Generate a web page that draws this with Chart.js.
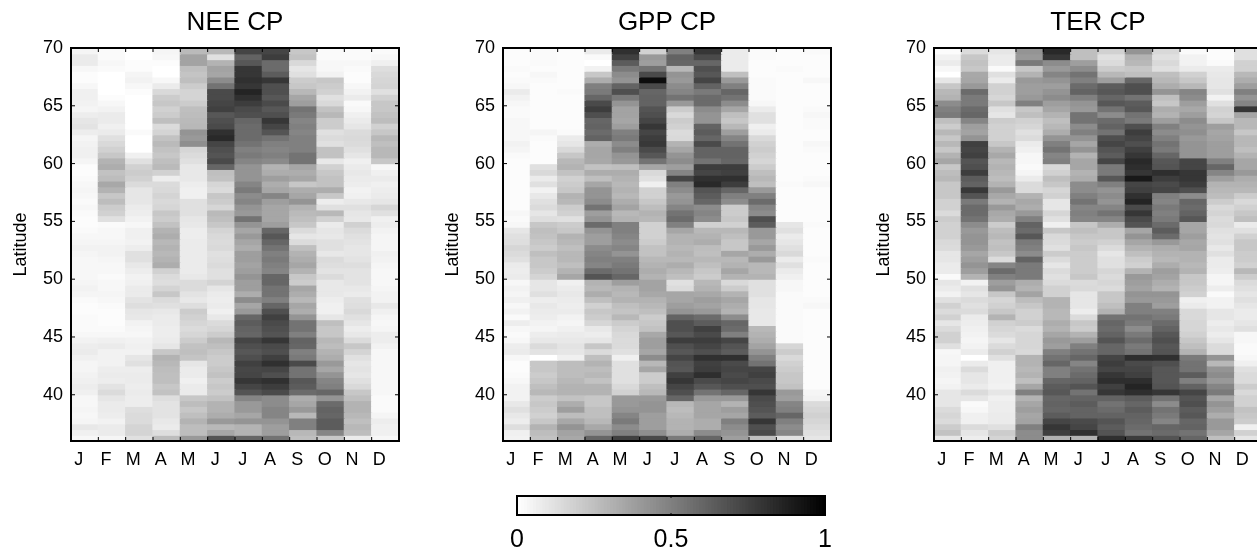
<!DOCTYPE html>
<html>
<head>
<meta charset="utf-8">
<script src="https://cdn.jsdelivr.net/npm/chart.js@4"></script>
<style>
  html, body { margin: 0; padding: 0; background: #fff; overflow: hidden; width: 1257px; height: 550px; }
  canvas { position: absolute; }
</style>
</head>
<body>
<canvas id="neeChart" width="420" height="480" style="left:0;top:0"></canvas>
<canvas id="gppChart" width="420" height="480" style="left:432px;top:0"></canvas>
<canvas id="terChart" width="420" height="480" style="left:863px;top:0"></canvas>
<canvas id="barChart" width="370" height="64" style="left:490px;top:486px"></canvas>
<script>
const months = ['J', 'F', 'M', 'A', 'M', 'J', 'J', 'A', 'S', 'O', 'N', 'D'];
const latTicks = [40, 45, 50, 55, 60, 65, 70];
const colorTicks = [0, 0.5, 1];

// lower edge of each half degree row, top of the map first
const rowLats = [69.5, 69, 68.5, 68, 67.5, 67, 66.5, 66, 65.5, 65,
  64.5, 64, 63.5, 63, 62.5, 62, 61.5, 61, 60.5, 60,
  59.5, 59, 58.5, 58, 57.5, 57, 56.5, 56, 55.5, 55,
  54.5, 54, 53.5, 53, 52.5, 52, 51.5, 51, 50.5, 50,
  49.5, 49, 48.5, 48, 47.5, 47, 46.5, 46, 45.5, 45,
  44.5, 44, 43.5, 43, 42.5, 42, 41.5, 41, 40.5, 40,
  39.5, 39, 38.5, 38, 37.5, 37, 36.5, 36];

// one list per month, same order as rowLats, percent of the colour bar
const neeValues = [
  [4,8,8,3,1,1,3,6,6,5, 4,7,10,11,7,4,5,6,6,4, 1,1,2,3,4,3,2,3,2,1, 1,2,3,4,5,4,3,3,3,3, 4,5,4,2,1,1,2,2,2,3, 5,7,8,6,4,4,5,6,7,6, 3,3,4,3,4,9,6,3],
  [2,2,3,2,0,0,0,0,1,3, 5,8,8,6,8,12,15,18,22,30, 32,24,26,34,30,22,26,20,18,12, 2,3,3,4,5,5,4,3,3,2, 3,3,4,3,2,1,1,1,2,3, 6,8,5,5,5,7,8,7,11,14, 10,8,8,7,5,8,8,4],
  [0,0,1,1,4,5,3,1,0,0, 0,0,0,0,2,0,0,0,6,12, 18,20,18,14,10,10,10,8,7,5, 3,6,6,5,7,12,12,9,7,5, 6,8,8,11,13,10,9,5,4,3, 5,6,5,10,12,7,8,8,7,8, 7,7,13,14,14,17,17,12],
  [4,3,1,0,0,3,8,15,20,22, 18,20,25,14,17,24,27,24,22,25, 27,18,7,14,15,17,15,16,22,20, 24,30,32,28,30,28,30,32,18,14, 13,17,22,14,12,9,8,8,7,7, 8,10,22,30,28,26,25,25,22,24, 13,11,11,11,9,8,13,26],
  [27,36,36,25,23,25,20,17,17,20, 25,26,27,28,42,40,44,16,14,12, 9,9,9,7,6,6,12,12,12,10, 9,7,7,8,8,8,8,8,8,9, 14,14,11,9,13,20,18,16,14,16, 20,24,25,23,10,8,8,6,8,8, 22,26,22,25,30,26,26,40],
  [28,12,30,36,35,45,55,71,71,73, 75,66,69,71,81,84,73,69,67,71, 60,25,24,16,14,22,20,16,27,25, 22,17,15,14,15,12,13,14,12,12, 17,10,8,7,8,6,9,14,16,20, 28,25,22,20,20,22,24,20,22,20, 24,30,30,32,40,28,35,67],
  [73,61,66,79,79,81,79,86,81,76, 71,69,60,58,58,58,55,50,52,48, 42,42,42,48,52,45,48,42,40,55, 42,35,40,35,32,38,38,36,38,42, 38,38,32,45,35,40,60,64,61,60, 73,69,66,69,75,72,73,79,73,67, 48,40,40,35,42,30,30,60],
  [73,76,58,58,64,79,69,69,66,71, 66,69,79,73,67,55,50,48,50,46, 30,32,38,32,35,48,38,35,35,35, 38,60,66,60,55,50,52,50,48,60, 60,55,55,50,60,69,75,71,69,67, 79,71,69,75,81,73,69,81,76,71, 45,45,48,48,42,38,38,55],
  [22,24,15,10,12,20,22,28,35,38, 55,52,48,50,48,50,50,50,55,55, 35,32,35,22,32,35,42,30,27,25, 22,14,10,14,25,30,32,35,30,22, 20,35,32,28,35,32,42,55,55,50, 61,60,50,52,71,55,55,66,64,58, 32,35,40,28,50,50,28,25],
  [2,2,3,3,5,22,20,18,12,15, 24,28,20,20,12,14,12,24,24,9, 18,22,24,24,32,22,7,12,28,18, 8,10,9,12,12,9,14,13,11,14, 9,9,9,7,6,6,10,25,22,22, 28,26,30,32,40,35,42,48,50,60, 42,58,61,60,64,64,48,22],
  [2,2,3,2,1,1,3,5,8,2, 3,6,8,10,14,15,14,12,10,6, 8,9,8,7,5,6,9,12,10,9, 18,14,12,11,10,10,11,13,11,11, 11,9,8,12,13,15,12,10,7,9, 14,22,17,12,10,11,10,12,15,22, 25,30,30,28,25,28,26,8],
  [2,3,6,13,15,16,17,12,18,22, 22,24,26,18,22,28,25,28,28,22, 3,6,8,6,7,8,10,16,12,6, 7,5,4,4,4,6,5,4,3,3, 3,4,5,5,9,6,4,3,4,7, 7,5,3,3,3,3,3,3,3,3, 2,2,2,4,7,6,6,3]
];

const gppValues = [
  [1,1,1,2,1,2,3,8,5,3, 2,2,3,3,3,3,5,4,2,1, 1,1,1,1,1,1,1,1,3,2, 3,10,12,13,16,14,12,8,7,8, 3,5,4,6,3,5,2,7,3,2, 3,7,8,3,1,1,2,3,5,5, 5,9,12,9,7,13,6,5],
  [2,2,2,1,3,2,1,1,1,1, 1,1,1,1,4,2,1,1,1,1, 12,15,8,12,5,9,12,14,10,13, 22,25,24,22,20,25,22,22,20,17, 10,10,12,7,9,8,7,5,4,7, 9,14,11,0,22,22,20,22,25,28, 20,22,20,18,22,30,26,24],
  [1,1,1,1,1,1,1,2,1,1, 1,1,1,1,2,8,10,15,22,28, 30,24,18,20,22,30,28,20,18,12, 20,22,30,28,25,28,28,25,30,35, 6,8,9,8,7,8,5,4,6,8, 9,11,10,6,26,26,26,28,30,30, 24,32,38,26,34,42,36,34],
  [8,2,0,5,22,32,50,52,60,71, 76,69,60,61,58,61,32,35,35,34, 24,32,25,35,42,42,45,55,38,42, 58,42,38,38,45,48,50,48,58,67, 30,28,32,25,18,22,20,16,9,7, 10,22,14,25,30,26,28,24,30,30, 22,22,25,25,28,34,42,60],
  [81,75,64,52,45,42,61,69,52,42, 36,36,35,38,50,52,45,50,42,40, 25,32,30,28,30,28,32,36,28,30, 50,50,48,45,48,42,50,52,55,60, 38,30,28,30,25,23,28,20,17,15, 14,14,12,6,12,12,12,12,15,18, 40,40,42,48,52,45,50,75],
  [18,40,38,55,71,95,71,60,61,61, 67,69,73,79,73,76,78,71,66,55, 35,15,12,6,18,18,22,26,30,28, 18,18,18,20,24,24,28,30,32,30, 36,36,34,30,28,25,20,22,24,34, 38,38,35,45,28,35,20,20,25,28, 40,42,42,38,38,38,44,71],
  [50,61,60,28,42,40,45,48,55,40, 20,15,20,18,14,15,30,35,42,45, 38,48,73,50,45,40,42,48,55,58, 50,35,30,30,28,30,28,32,28,25, 12,14,35,35,38,42,61,69,69,66, 76,69,66,73,67,66,75,79,73,69, 60,28,26,28,30,30,32,52],
  [79,71,60,69,66,73,61,52,58,58, 45,42,42,61,64,60,71,61,61,55, 76,73,81,84,67,64,60,45,48,45, 18,28,30,32,26,25,28,25,22,20, 28,30,34,38,36,40,58,64,75,71, 76,73,69,81,75,76,82,71,66,55, 40,35,35,35,32,32,45,60],
  [8,8,8,8,25,40,50,60,55,45, 35,25,22,28,38,48,55,61,61,60, 76,75,81,76,60,50,45,20,20,22, 18,28,25,22,22,35,28,30,35,30, 15,20,30,35,32,30,45,60,58,50, 73,67,64,81,71,73,71,73,69,60, 40,30,38,35,50,45,42,38],
  [2,2,1,1,1,2,2,2,2,3, 8,12,12,6,8,15,18,20,18,16, 20,25,28,25,40,50,58,48,45,69, 64,40,40,35,40,32,40,28,28,30, 12,12,12,10,10,9,9,9,28,30, 32,36,42,50,55,73,75,71,69,79, 71,69,67,64,79,69,71,25],
  [1,1,1,2,1,1,1,1,1,1, 1,1,1,1,1,1,1,1,1,1, 1,1,1,2,1,1,1,1,1,1, 10,12,8,10,12,15,8,12,8,6, 3,3,2,2,2,2,2,2,2,2, 2,16,20,15,18,20,22,22,24,40, 38,48,50,60,50,45,48,12],
  [2,1,1,1,1,3,1,1,1,1, 2,3,2,2,1,1,3,2,1,1, 1,1,2,3,1,1,1,1,1,1, 2,1,1,1,1,1,2,1,1,1, 1,1,1,2,3,1,1,1,1,1, 1,1,1,1,1,1,1,1,1,4, 5,14,16,18,16,14,12,10]
];

const terValues = [
  [1,5,8,3,0,10,22,28,30,45, 50,52,25,20,28,22,28,22,30,35, 22,26,28,22,22,22,18,18,14,20, 18,18,18,15,14,10,10,8,8,2, 10,8,5,12,18,14,18,10,14,18, 18,12,3,4,4,6,5,4,5,10, 10,10,14,16,14,20,24,10],
  [14,22,24,22,34,35,40,58,52,52, 58,60,48,38,36,42,75,73,75,67, 69,76,64,61,78,67,52,58,58,55, 45,40,42,42,40,35,38,42,38,30, 5,12,10,14,12,14,8,7,6,5, 4,5,8,0,8,14,10,10,8,14, 10,2,3,6,6,14,10,7],
  [10,8,8,2,12,8,18,18,16,22, 12,10,20,18,18,18,22,30,34,28, 30,28,26,30,40,34,30,40,34,32, 20,26,28,24,25,22,14,48,58,50, 38,42,22,16,18,22,30,18,16,14, 10,14,18,12,6,6,6,6,5,10, 6,7,7,8,8,12,20,17],
  [42,40,52,22,30,40,38,38,40,50, 22,25,18,16,12,14,8,6,3,3, 2,4,8,14,14,30,34,32,40,50, 61,58,66,52,50,45,61,52,52,52, 32,30,36,26,22,18,18,20,14,16, 16,16,15,30,30,28,30,25,35,50, 30,35,38,35,36,50,45,45],
  [84,79,45,40,48,42,38,42,45,38, 35,30,25,28,32,42,50,55,48,50, 15,18,25,22,16,18,10,10,16,12, 6,22,15,14,12,20,14,10,14,12, 14,18,18,30,30,28,28,32,30,35, 40,38,50,55,60,50,50,60,64,66, 60,61,60,64,73,79,75,30],
  [25,25,38,45,55,50,58,61,50,42, 40,55,55,45,50,42,35,42,30,35, 35,30,32,45,45,50,55,48,50,48, 22,25,22,20,22,20,20,20,20,22, 14,15,10,10,10,7,14,22,20,30, 38,50,55,60,48,55,58,61,67,55, 61,64,61,61,71,73,81,30],
  [18,12,14,20,28,38,64,66,60,66, 55,45,58,61,55,69,73,67,64,73, 52,52,66,50,42,45,42,48,55,48, 32,22,22,18,14,10,12,12,16,14, 16,14,22,22,25,30,55,60,58,61, 67,60,60,73,76,73,79,82,75,79, 61,55,58,61,67,64,67,81],
  [42,30,28,22,25,60,69,69,55,64, 66,55,52,69,76,73,69,75,79,84, 82,79,90,73,75,81,86,71,79,71, 67,35,42,35,30,25,20,18,30,40, 38,36,42,40,50,50,55,52,45,52, 58,52,55,82,71,73,75,82,86,82, 64,60,64,61,60,58,55,76],
  [15,12,15,12,25,28,32,42,25,22, 32,30,38,50,45,50,55,52,60,66, 67,82,76,71,73,50,48,52,50,52, 58,64,58,40,32,30,28,32,38,36, 32,30,42,40,38,50,52,58,61,66, 69,66,67,81,69,66,66,66,67,79, 55,45,55,52,48,60,58,67],
  [2,5,5,8,18,22,28,48,45,38, 34,38,45,42,44,40,42,42,42,73, 73,79,79,76,69,45,60,58,61,66, 35,35,38,34,35,30,30,28,30,22, 22,20,18,6,8,15,15,16,16,18, 22,25,30,52,55,55,64,50,61,73, 67,69,64,66,60,61,55,60],
  [1,1,2,8,9,10,10,12,5,12, 18,17,22,38,35,36,38,38,38,50, 60,48,38,30,28,26,20,15,17,14, 15,12,11,12,9,12,8,8,7,4, 4,7,2,5,5,10,10,7,9,7, 10,14,14,42,28,42,45,40,48,52, 35,42,38,32,40,40,35,25],
  [12,12,18,18,28,32,38,50,42,48, 79,35,28,28,22,28,28,25,30,35, 35,40,32,30,28,20,15,18,22,25, 8,12,18,22,22,20,20,18,28,20, 14,12,10,12,10,8,8,10,12,3, 3,2,2,3,6,12,14,14,20,15, 18,18,24,22,20,6,18,10]
];

// steps of the colour bar, lower edge of each step in percent
const barSteps = [0,1,2,3,4,5,6,7,8,9,10,11,12,13,14,15,16,17,18,19,20,21,22,23,24,
  25,26,27,28,29,30,31,32,33,34,35,36,37,38,39,40,41,42,43,44,45,46,47,48,49,
  50,51,52,53,54,55,56,57,58,59,60,61,62,63,64,65,66,67,68,69,70,71,72,73,74,
  75,76,77,78,79,80,81,82,83,84,85,86,87,88,89,90,91,92,93,94,95,96,97,98,99];

const fontName = '"Liberation Sans", Arial, sans-serif';
const rowHeight = 0.5;

function grayOf(percent){
  const g = Math.round(255 * (1 - percent / 100));
  return `rgb(${g},${g},${g})`;
}

// MATLAB style box: black frame with the ticks pointing inward
const boxPlugin = {
  id: 'box',
  afterDatasetsDraw(chart){
    const { ctx, chartArea: a, scales } = chart;
    const len = 4;
    ctx.save();
    ctx.strokeStyle = '#000';
    ctx.lineWidth = 2;
    ctx.strokeRect(a.left, a.top, a.right - a.left, a.bottom - a.top);
    ctx.lineWidth = 1;
    ctx.beginPath();
    if(scales.x.type === 'category'){
      const step = (a.right - a.left) / months.length;
      months.forEach((m, i) => {
        const px = scales.x.getPixelForValue(i) + step / 2;
        ctx.moveTo(px, a.top); ctx.lineTo(px, a.top + len);
        ctx.moveTo(px, a.bottom); ctx.lineTo(px, a.bottom - len);
      });
      latTicks.forEach(v => {
        const py = scales.y.getPixelForValue(v);
        ctx.moveTo(a.left, py); ctx.lineTo(a.left + len, py);
        ctx.moveTo(a.right, py); ctx.lineTo(a.right - len, py);
      });
    } else {
      const px = scales.x.getPixelForValue(0.5);
      ctx.moveTo(px, a.top); ctx.lineTo(px, a.top + 2);
      ctx.moveTo(px, a.bottom); ctx.lineTo(px, a.bottom - 2);
    }
    ctx.stroke();
    ctx.restore();
  }
};

function drawPanel(id, titleText, values){
  const datasets = rowLats.map((lat, r) => ({
    data: months.map(() => [lat, lat + rowHeight]),
    backgroundColor: months.map((m, c) => grayOf(values[c][r])),
    borderWidth: 0,
    inflateAmount: 0.6,
    barPercentage: 1,
    categoryPercentage: 1,
    grouped: false
  }));
  new Chart(document.getElementById(id), {
    type: 'bar',
    data: { labels: months, datasets: datasets },
    plugins: [boxPlugin],
    options: {
      responsive: false,
      animation: false,
      layout: { padding: { right: 21 } },
      plugins: {
        legend: { display: false },
        tooltip: { enabled: false },
        title: {
          display: true,
          text: titleText,
          color: '#000',
          fullSize: false,
          font: { family: fontName, size: 26, weight: 'normal' },
          padding: { top: 7, bottom: 9.8 }
        }
      },
      scales: {
        x: {
          grid: { display: false },
          border: { display: false },
          afterFit(scale){ scale.height = 39; },
          ticks: {
            color: '#000',
            font: { family: fontName, size: 18 },
            padding: 0,
            labelOffset: -6,
            maxRotation: 0,
            autoSkip: false
          }
        },
        y: {
          min: 36,
          max: 70,
          grid: { display: false },
          border: { display: false },
          afterFit(scale){ scale.width = 71; },
          afterBuildTicks(scale){ scale.ticks = latTicks.map(v => ({ value: v })); },
          title: {
            display: true,
            text: 'Latitude',
            color: '#000',
            font: { family: fontName, size: 18 },
            padding: { top: 10, bottom: 0 }
          },
          ticks: {
            color: '#000',
            font: { family: fontName, size: 18 },
            padding: 0
          }
        }
      }
    }
  });
}

function drawColorBar(){
  const datasets = barSteps.map(s => ({
    data: [[s / 100, (s + 1) / 100]],
    backgroundColor: grayOf(s + 0.5),
    borderWidth: 0,
    inflateAmount: 0.6,
    barPercentage: 1,
    categoryPercentage: 1,
    grouped: false
  }));
  new Chart(document.getElementById('barChart'), {
    type: 'bar',
    data: { labels: [''], datasets: datasets },
    plugins: [boxPlugin],
    options: {
      indexAxis: 'y',
      responsive: false,
      animation: false,
      layout: { padding: { left: 27, right: 35, top: 10 } },
      plugins: { legend: { display: false }, tooltip: { enabled: false } },
      scales: {
        x: {
          min: 0,
          max: 1,
          grid: { display: false },
          border: { display: false },
          afterFit(scale){ scale.height = 35; },
          afterBuildTicks(scale){ scale.ticks = colorTicks.map(v => ({ value: v })); },
          ticks: {
            color: '#000',
            font: { family: fontName, size: 25 },
            padding: 2,
            maxRotation: 0,
            callback: v => String(v)
          }
        },
        y: { display: false }
      }
    }
  });
}

document.addEventListener('DOMContentLoaded', () => {
  drawPanel('neeChart', 'NEE CP', neeValues);
  drawPanel('gppChart', 'GPP CP', gppValues);
  drawPanel('terChart', 'TER CP', terValues);
  drawColorBar();
});
</script>
</body>
</html>
